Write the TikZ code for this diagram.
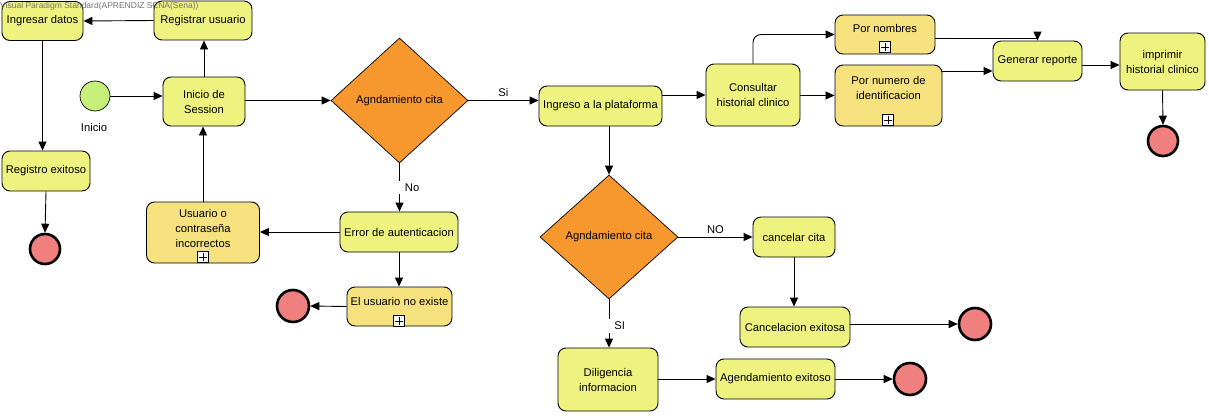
\documentclass[tikz,border=0pt]{standalone}
\usepackage{fontspec}
\setmainfont{Liberation Sans}
\usetikzlibrary{arrows.meta,shapes.geometric}
\definecolor{taskfill}{HTML}{EEF27E}
\definecolor{subfill}{HTML}{F5E27F}
\definecolor{gatefill}{HTML}{F7982F}
\definecolor{startfill}{HTML}{C5EE7A}
\definecolor{endfill}{HTML}{F07F7F}
\tikzset{
  base/.style={font=\fontsize{11.2}{15}\selectfont, align=center, inner sep=2pt},
  task/.style={base, draw, line width=0.9pt, rounded corners=8pt, fill=taskfill},
  subbox/.style={draw, line width=0.9pt, rounded corners=8pt, fill=subfill, inner sep=0pt},
  lbl/.style={base},
  plusmark/.style={draw, fill=white, line width=0.8pt, minimum size=11pt, inner sep=0pt,
    path picture={\draw[line width=0.8pt] ([yshift=-1.5pt]path picture bounding box.north) -- ([yshift=1.5pt]path picture bounding box.south)
      ([xshift=1.5pt]path picture bounding box.west) -- ([xshift=-1.5pt]path picture bounding box.east);}},
  gate/.style={base, diamond, draw, line width=0.7pt, fill=gatefill, inner sep=0pt},
  startev/.style={circle, draw, line width=0.7pt, fill=startfill, minimum size=30pt, inner sep=0pt},
  endev/.style={circle, draw, line width=2.6pt, fill=endfill, minimum size=#1, inner sep=0pt},
  flow/.style={draw, line width=0.9pt, -{Triangle[length=9pt,width=8pt]}},
  cut/.style={base, fill=white, inner ysep=3pt},
}
\begin{document}
\begin{tikzpicture}[x=1pt,y=-1pt]
\useasboundingbox (0,0) rectangle (1209,415);

% left part
\node[task, minimum width=81pt, minimum height=39pt] (ing) at (42.5,21) {Ingresar datos};
\node[task, minimum width=98pt, minimum height=39pt] (reg) at (203,20.5) {Registrar usuario};
\node[startev] (start) at (95,96) {};
\node[lbl] (startlbl) at (94,127) {Inicio};
\node[task, minimum width=82pt, minimum height=49pt] (ses) at (204,101.5) {Inicio de\\Session};
\node[task, minimum width=88pt, minimum height=40pt] (regex) at (46,171) {Registro exitoso};
\node[endev=30pt] (end1) at (45,249) {};

\node[subbox, minimum width=113pt, minimum height=61pt] (usr) at (203,232.5) {};
\node[lbl] (usrlbl) at (203,228) {Usuario o\\contraseña\\incorrectos};
\node[plusmark] (usrplus) at (203,257) {};

\node[gate, minimum width=137pt, minimum height=125pt] (d1) at (399.5,100.5) {Agndamiento cita};
\node[task, minimum width=118pt, minimum height=40pt] (err) at (399,232) {Error de autenticacion};
\node[subbox, minimum width=105pt, minimum height=39pt] (noex) at (399.5,306.5) {};
\node[lbl] (noexlbl) at (399.5,301) {El usuario no existe};
\node[plusmark] (noexplus) at (399,321) {};
\node[endev=32pt] (end3) at (293,306) {};

% middle
\node[task, minimum width=123pt, minimum height=40pt] (ingr) at (600.5,106) {Ingreso a la plataforma};
\node[gate, minimum width=138pt, minimum height=124pt] (d2) at (609,237) {Agndamiento cita};
\node[task, minimum width=82pt, minimum height=40pt] (canc) at (794,237) {cancelar cita};
\node[task, minimum width=110pt, minimum height=40pt] (cancex) at (795,327) {Cancelacion exitosa};
\node[endev=32pt] (end4) at (975,324) {};
\node[task, minimum width=100pt, minimum height=63pt] (dil) at (608,379.5) {Diligencia\\informacion};
\node[task, minimum width=119pt, minimum height=40pt] (agex) at (775.5,379) {Agendamiento exitoso};
\node[endev=32pt] (end5) at (910,379) {};

% right part
\node[task, minimum width=94pt, minimum height=62pt] (cons) at (753,95) {Consultar\\historial clinico};
\node[subbox, minimum width=100pt, minimum height=39pt] (pnom) at (885,34.5) {};
\node[lbl] (pnomlbl) at (885,28) {Por nombres};
\node[plusmark] (pnomplus) at (885,47) {};
\node[subbox, minimum width=107pt, minimum height=61pt] (pnum) at (888.5,95.5) {};
\node[lbl] (pnumlbl) at (888.5,88) {Por numero de\\identificacion};
\node[plusmark] (pnumplus) at (888,120) {};
\node[task, minimum width=89pt, minimum height=40pt] (gen) at (1037.5,61) {Generar reporte};
\node[task, minimum width=85pt, minimum height=57pt] (imp) at (1162.5,61.5) {imprimir\\historial clinico};
\node[endev=30pt] (end6) at (1163,141) {};

% connectors
\draw[flow] (reg.west) -- (ing.east);
\draw[flow] (ses.north) -- (reg.south -| ses.north);
\draw[flow] (ing.south) -- (regex.north -| ing.south);
\draw[flow] (regex.south) -- (end1.north);
\draw[flow] (start.east) -- (ses.west |- start.east);
\draw[flow] (ses.east |- d1.west) -- (d1.west);
\draw[flow] (d1.east) -- (ingr.west |- d1.east) node[midway, above, base, yshift=1pt] {Si};
\draw[flow] (d1.south) -- (err.north -| d1.south) node[pos=0.5, anchor=west, xshift=-3pt, cut, inner xsep=8pt] {No};
\draw[flow] (err.west) -- (usr.east |- err.west);
\draw[flow] (usr.north) -- (ses.south -| usr.north);
\draw[flow] (err.south) -- (noex.north -| err.south);
\draw[flow] (noex.west) -- (end3.east);
\draw[flow] (ingr.east |- cons.west) -- (cons.west);
\draw[flow] (ingr.south -| d2.north) -- (d2.north);
\draw[flow] (d2.east) -- (canc.west |- d2.east) node[midway, above, base, yshift=1pt] {NO};
\draw[flow] (d2.south) -- (dil.north -| d2.south) node[pos=0.55, anchor=west, xshift=-3pt, cut, inner xsep=8pt] {SI};
\draw[flow] (canc.south) -- (cancex.north -| canc.south);
\draw[flow] (cancex.east |- end4.west) -- (end4.west);
\draw[flow] (dil.east |- agex.west) -- (agex.west);
\draw[flow] (agex.east) -- (end5.west);
\draw[flow, rounded corners=8pt] (cons.north) |- (pnom.west);
\draw[flow] (cons.east |- pnum.west) -- (pnum.west);
\draw[flow] ([yshift=-4pt]pnom.east) -| (gen.north);
\draw[flow] (pnum.east |- 0,71) -- (gen.west |- 0,71);
\draw[flow] (gen.east |- 0,65) -- (imp.west |- 0,65);
\draw[flow] (imp.south) -- (end6.north);

% watermark (on top)
\node[anchor=west, inner sep=0pt, text=black!55, font=\fontsize{8.5}{9}\selectfont] (wm) at (0,6) {Visual Paradigm Standard(APRENDIZ SENA(Sena))};
\end{tikzpicture}
\end{document}
